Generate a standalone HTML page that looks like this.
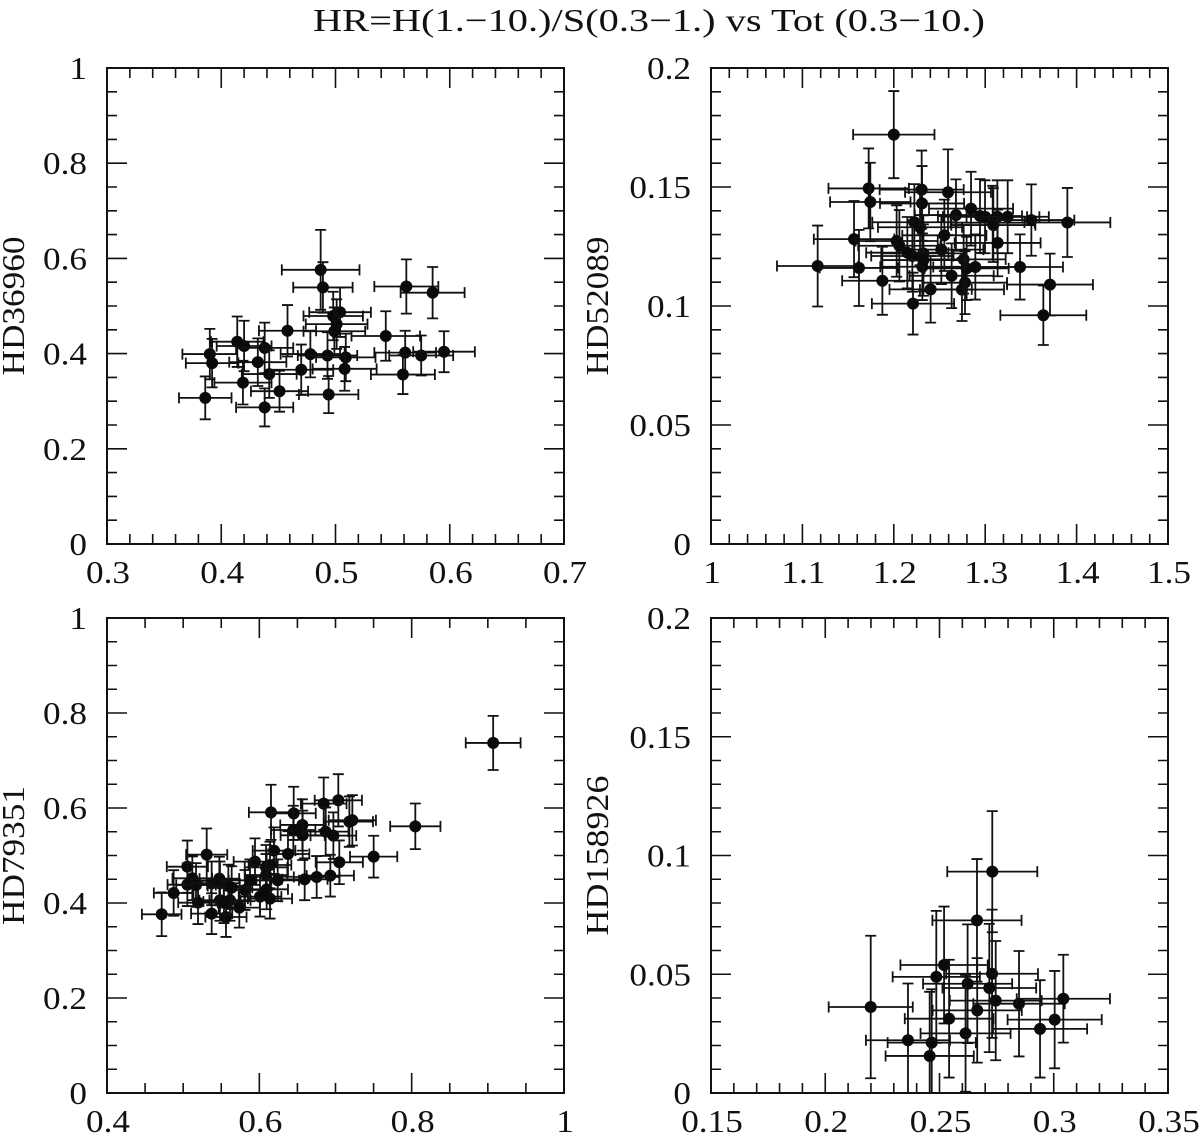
<!DOCTYPE html>
<html lang="en">
<head>
<meta charset="utf-8">
<title>HR vs Tot</title>
<style>
html,body{margin:0;padding:0;background:#fff;width:1200px;height:1133px;overflow:hidden}
svg{display:block}
text{font-family:"Liberation Serif",serif;fill:#111}
.tick-label{font-size:32px}
.axis-title{font-size:32px}
</style>
</head>
<body>
<svg id="figure" xmlns="http://www.w3.org/2000/svg" width="1200" height="1133" viewBox="0 0 1200 1133">
  <rect x="0" y="0" width="1200" height="1133" fill="#fff"/>
  <text x="313" y="31" font-size="32" textLength="672" lengthAdjust="spacingAndGlyphs">HR=H(1.−10.)/S(0.3−1.) vs Tot (0.3−10.)</text>
</svg>
<script>
// HD36960
const p1X = [.487,.489,.562,.585,.504,.498,.501,.499,.544,.458,.414,.420,.438,.390,.392,.432,.442,.478,.493,.509,.561,.575,.595,.559,.508,.470,.419,.451,.494,.438,.386];
const p1Y = [.576,.539,.541,.528,.487,.479,.462,.447,.437,.448,.425,.416,.412,.399,.380,.382,.357,.399,.396,.392,.402,.396,.404,.356,.368,.366,.339,.321,.314,.287,.307];
const p1XErr = [.034,.026,.028,.028,.027,.026,.027,.027,.030,.025,.023,.024,.025,.024,.023,.025,.024,.026,.026,.026,.027,.028,.027,.028,.028,.028,.025,.025,.026,.025,.023];
const p1YErr = [.084,.053,.057,.054,.052,.051,.052,.050,.052,.054,.053,.053,.053,.053,.051,.050,.050,.049,.049,.050,.046,.042,.043,.041,.046,.053,.046,.043,.039,.040,.045];
// HD52089
const p2X = [1.200,1.1725,1.1743,1.2305,1.2309,1.2593,1.268,1.2845,1.2943,1.2998,1.3089,1.3082,1.3133,1.3246,1.3505,1.3899,1.3136,1.1565,1.1167,1.1619,1.1875,1.2210,1.2403,1.2746,1.2779,1.2633,1.2764,1.2797,1.2892,1.3381,1.3709,1.3636,1.2553,1.2520,1.2323,1.2312,1.2225,1.2287,1.2031,1.2061,1.2148,1.2203,1.2323];
const p2Y = [.172,.1494,.1437,.1489,.1431,.1478,.1382,.1409,.1378,.1375,.134,.1350,.1375,.1375,.1361,.1351,.1265,.1281,.1168,.116,.1106,.1010,.107,.1069,.1098,.1127,.1196,.1158,.1164,.1164,.109,.0961,.1297,.1237,.1221,.1165,.1352,.1331,.1273,.1253,.1224,.121,.1193];
const p2XErr = [.0445,.044,.044,.046,.046,.047,.045,.046,.046,.046,.046,.046,.046,.045,.047,.047,.047,.044,.0445,.043,.044,.045,.045,.046,.046,.046,.046,.046,.046,.047,.047,.047,.046,.046,.046,.046,.046,.046,.045,.045,.045,.045,.046];
const p2YErr = [.0183,.0168,.0165,.0164,.0157,.018,.015,.0155,.0155,.0153,.0155,.0155,.0153,.0153,.015,.0145,.014,.016,.017,.016,.0143,.013,.014,.0132,.0132,.0136,.0144,.0133,.0137,.0137,.013,.0125,.015,.0145,.016,.014,.016,.016,.015,.015,.015,.015,.015];
// HD79351
const p3X = [.907,.8048,.7501,.7037,.6845,.6153,.6451,.7182,.7221,.6565,.6446,.6569,.6871,.6972,.6193,.5943,.6376,.7050,.6932,.6753,.6595,.6241,.6140,.6088,.6088,.5877,.5812,.6096,.6009,.6140,.5737,.5615,.5562,.5374,.5483,.5195,.4875,.4718,.5055,.5309,.5055,.5120,.5169,.5374,.5475,.5483,.5593,.5637,.5536];
const p3Y = [.737,.5614,.4976,.6162,.6092,.5909,.5888,.5713,.5741,.5643,.5537,.5425,.5502,.5418,.5102,.4871,.5032,.4857,.4576,.4548,.4499,.4478,.4800,.4751,.4590,.4478,.4274,.4288,.4134,.4092,.3902,.4057,.3706,.3776,.4057,.4007,.4211,.3762,.4765,.5018,.4386,.4520,.4379,.4414,.4513,.4414,.4358,.4323,.4028];
const p3XErr = [.036,.033,.031,.031,.030,.029,.029,.031,.031,.029,.029,.029,.030,.030,.028,.028,.028,.031,.031,.030,.030,.028,.028,.028,.028,.028,.028,.028,.028,.029,.027,.027,.027,.027,.027,.026,.026,.026,.027,.027,.026,.026,.026,.026,.026,.026,.027,.027,.027];
const p3YErr = [.057,.048,.044,.055,.055,.058,.056,.053,.053,.054,.051,.052,.051,.049,.049,.049,.048,.046,.044,.044,.044,.044,.049,.047,.044,.044,.042,.042,.042,.042,.042,.043,.042,.043,.043,.045,.048,.046,.055,.055,.045,.046,.046,.046,.046,.046,.045,.045,.045];
// HD158926
const p4X = [.2731,.2664,.2520,.2486,.2730,.2623,.2718,.2746,.2848,.3042,.3004,.2940,.2665,.2542,.2614,.2466,.2457,.2362,.2199];
const p4Y = [.0932,.0727,.0539,.0489,.0502,.0460,.0442,.0389,.0376,.0397,.0309,.0270,.0348,.0313,.0251,.0212,.0156,.0222,.0362];
const p4XErr = [.0197,.0195,.0191,.0191,.0201,.0195,.0205,.0201,.02,.0204,.0206,.0206,.0195,.0194,.0197,.0193,.0193,.0184,.0184];
const p4YErr = [.0255,.0258,.0246,.0278,.027,.025,.027,.0251,.0222,.0185,.0205,.0205,.022,.0248,.0246,.0225,.027,.0239,.030];

// Tick labels
const p1XTicks = ["0.3","0.4","0.5","0.6","0.7"];
const p1YTicks = ["0","0.2","0.4","0.6","0.8","1"];
const p2XTicks = ["1","1.1","1.2","1.3","1.4","1.5"];
const p2YTicks = ["0","0.05","0.1","0.15","0.2"];
const p3XTicks = ["0.4","0.6","0.8","1"];
const p3YTicks = ["0","0.2","0.4","0.6","0.8","1"];
const p4XTicks = ["0.15","0.2","0.25","0.3","0.35"];
const p4YTicks = ["0","0.05","0.1","0.15","0.2"];

const NS = "http://www.w3.org/2000/svg";
const svg = document.getElementById("figure");

function make(tag, attrs, parent, text) {
  const el = document.createElementNS(NS, tag);
  for (const k in attrs) el.setAttribute(k, attrs[k]);
  if (text !== undefined) el.textContent = text;
  parent.appendChild(el);
  return el;
}

function drawPanel(cfg) {
  const g = make("g", {}, svg);
  
  

  const xMin = parseFloat(cfg.xTicks[0]);
  const xMax = parseFloat(cfg.xTicks[cfg.xTicks.length - 1]);
  const yMin = parseFloat(cfg.yTicks[0]);
  const yMax = parseFloat(cfg.yTicks[cfg.yTicks.length - 1]);
  const sx = v => cfg.left + (v - xMin) / (xMax - xMin) * (cfg.right - cfg.left);
  const sy = v => cfg.bottom - (v - yMin) / (yMax - yMin) * (cfg.bottom - cfg.top);

  const clipId = "clip-" + cfg.name;
  const defs = make("defs", {}, g);
  const clip = make("clipPath", { id: clipId }, defs);
  make("rect", { x: cfg.left, y: cfg.top, width: cfg.right - cfg.left, height: cfg.bottom - cfg.top }, clip);

  // Marks
  const marks = make("g", { "clip-path": "url(#" + clipId + ")" }, g);
  
  
  const cap = 5.5;
  cfg.xs.forEach((xv, i) => {
    const yv = cfg.ys[i];
    const xe = cfg.xErr[i];
    const ye = cfg.yErr[i];
    const x0 = sx(xv - xe), x1 = sx(xv + xe), px = sx(xv);
    const y0 = sy(yv - ye), y1 = sy(yv + ye), py = sy(yv);
    const d = `M${x0} ${py}H${x1}M${x0} ${py - cap}V${py + cap}M${x1} ${py - cap}V${py + cap}` +
              `M${px} ${y0}V${y1}M${px - cap} ${y0}H${px + cap}M${px - cap} ${y1}H${px + cap}`;
    const bar = make("path", { d: d, fill: "none", stroke: "#111", "stroke-width": 1.8 }, marks);
    
    
    const dot = make("circle", { cx: px, cy: py, r: 6, fill: "#0a0a0a" }, marks);
    
    
  });

  // Ticks
  let tickPath = "";
  const xCount = Math.round((xMax - xMin) / (cfg.xTicks.length - 1) * 1e6) / 1e6 / cfg.xSub;
  const nx = (cfg.xTicks.length - 1) * cfg.xSub;
  for (let i = 0; i <= nx; i++) {
    const p = sx(xMin + i * xCount);
    const len = i % cfg.xSub === 0 ? 20 : 10;
    tickPath += `M${p} ${cfg.bottom}v${-len}M${p} ${cfg.top}v${len}`;
  }
  const yCount = Math.round((yMax - yMin) / (cfg.yTicks.length - 1) * 1e6) / 1e6 / cfg.ySub;
  const ny = (cfg.yTicks.length - 1) * cfg.ySub;
  for (let i = 0; i <= ny; i++) {
    const p = sy(yMin + i * yCount);
    const len = i % cfg.ySub === 0 ? 20 : 10;
    tickPath += `M${cfg.left} ${p}h${len}M${cfg.right} ${p}h${-len}`;
  }
  const ticks = make("path", { d: tickPath, fill: "none", stroke: "#111", "stroke-width": 1.6 }, g);
  
  

  const frame = make("rect", { x: cfg.left, y: cfg.top, width: cfg.right - cfg.left, height: cfg.bottom - cfg.top, fill: "none", stroke: "#111", "stroke-width": 2 }, g);
  
  

  // Tick labels (stretched horizontally to match the wider roman digits)
  cfg.xTicks.forEach(t => {
    const el = make("text", { "text-anchor": "middle", class: "tick-label", transform: `translate(${sx(parseFloat(t)) + 1} ${cfg.bottom + 39}) scale(1.1 1)` }, g, t);
    
    
  });
  cfg.yTicks.forEach(t => {
    const el = make("text", { "text-anchor": "end", class: "tick-label", transform: `translate(${cfg.left - 20} ${sy(parseFloat(t)) + 11}) scale(1.1 1)` }, g, t);
    
    
  });

  // Y title
  const tx = cfg.titleX, ty = (cfg.bottom + cfg.top) / 2 + cfg.titleDy;
  const title = make("text", {
    x: -cfg.titleLen / 2, y: 0, class: "axis-title",
    textLength: cfg.titleLen, lengthAdjust: "spacingAndGlyphs",
    transform: `translate(${tx} ${ty}) rotate(-90)`
  }, g, cfg.name);
  
  
}

drawPanel({ name: "HD36960", left: 107, right: 564, top: 68, bottom: 544, xs: p1X, ys: p1Y, xErr: p1XErr, yErr: p1YErr, xTicks: p1XTicks, yTicks: p1YTicks, xSub: 5, ySub: 4, titleX: 24, titleDy: 0, titleLen: 139 });
drawPanel({ name: "HD52089", left: 711, right: 1168, top: 68, bottom: 544, xs: p2X, ys: p2Y, xErr: p2XErr, yErr: p2YErr, xTicks: p2XTicks, yTicks: p2YTicks, xSub: 5, ySub: 5, titleX: 608, titleDy: 0, titleLen: 139 });
drawPanel({ name: "HD79351", left: 107, right: 564, top: 618, bottom: 1093, xs: p3X, ys: p3Y, xErr: p3XErr, yErr: p3YErr, xTicks: p3XTicks, yTicks: p3YTicks, xSub: 4, ySub: 4, titleX: 24, titleDy: 0, titleLen: 139 });
drawPanel({ name: "HD158926", left: 711, right: 1168, top: 618, bottom: 1093, xs: p4X, ys: p4Y, xErr: p4XErr, yErr: p4YErr, xTicks: p4XTicks, yTicks: p4YTicks, xSub: 5, ySub: 5, titleX: 608, titleDy: 0, titleLen: 160 });
</script>
</body>
</html>
